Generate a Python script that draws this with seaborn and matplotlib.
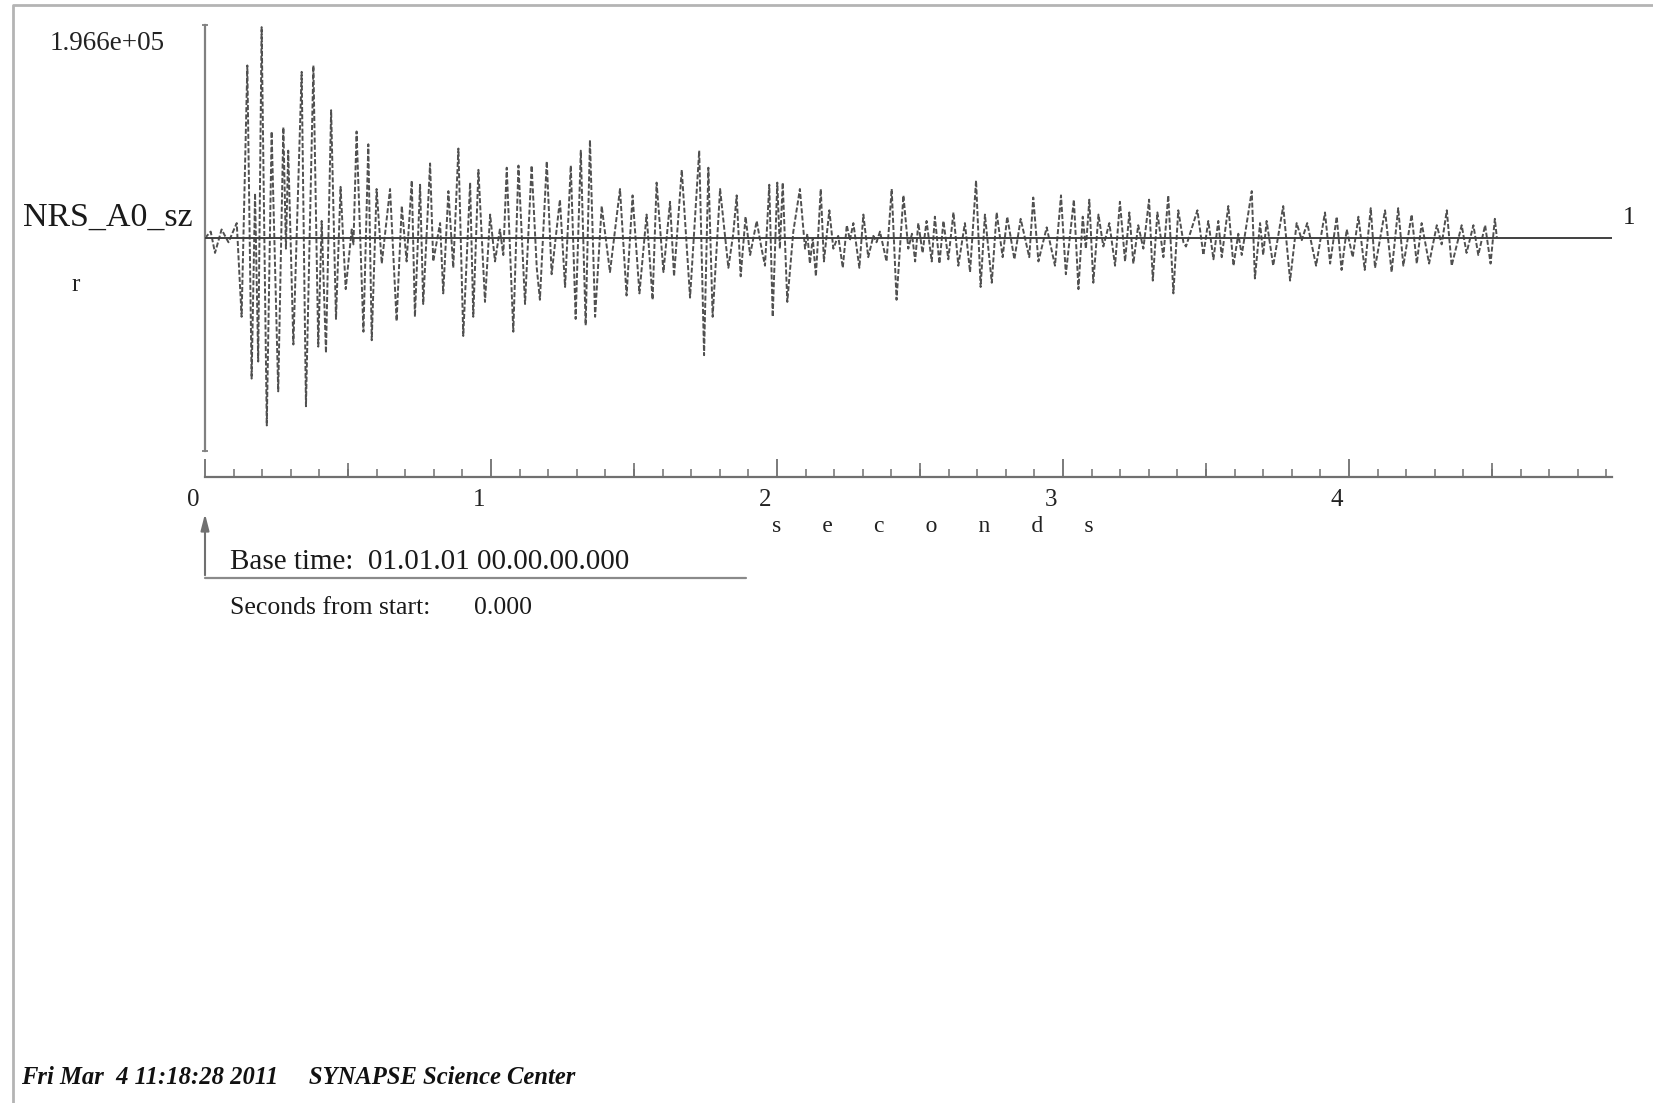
import numpy as np
import pandas as pd
import seaborn as sns
import matplotlib.pyplot as plt
from matplotlib.lines import Line2D
from matplotlib.patches import FancyArrowPatch
from matplotlib.ticker import MultipleLocator
from matplotlib import transforms

sns.set_style('white')
plt.rcParams['font.family'] = ['Liberation Serif', 'DejaVu Serif']

W, H = 1653, 1103

# --- data ---
station = 'NRS_A0_sz'
trace_no = '1'
amp_max = 1.966e5
base_time = '01.01.01 00.00.00.000'
start_offset = 0.000
stamp = 'Fri Mar  4 11:18:28 2011'
site = 'SYNAPSE Science Center'

sec_ticks = [0, 1, 2, 3, 4]
half_ticks = [0.5, 1.5, 2.5, 3.5, 4.5]
t_end = 4.92

# times (s) of the peaks / troughs of the trace
peak_time = [
    0.000, 0.020, 0.035, 0.058, 0.082, 0.111, 0.128, 0.148, 0.163, 0.175,
    0.186, 0.198, 0.216, 0.233, 0.256, 0.274, 0.283, 0.291, 0.309, 0.338,
    0.353, 0.379, 0.396, 0.408, 0.423, 0.441, 0.458, 0.474, 0.492, 0.513,
    0.519, 0.530, 0.554, 0.571, 0.583, 0.600, 0.618, 0.647, 0.670, 0.688,
    0.705, 0.723, 0.734, 0.752, 0.763, 0.787, 0.798, 0.822, 0.833, 0.851,
    0.868, 0.886,
    0.903, 0.927, 0.938, 0.956, 0.979, 0.997, 1.014, 1.031, 1.043, 1.055,
    1.078, 1.096, 1.119, 1.142, 1.160, 1.171, 1.195, 1.212, 1.241, 1.259,
    1.279, 1.296, 1.314, 1.331, 1.346, 1.364, 1.387, 1.416, 1.451, 1.474,
    1.495, 1.519, 1.544, 1.565, 1.579, 1.603, 1.626, 1.640, 1.667, 1.696,
    1.728, 1.745, 1.760,
    1.775, 1.801, 1.830, 1.847, 1.859, 1.873, 1.890, 1.906, 1.929, 1.946,
    1.958, 1.973, 1.985, 2.001, 2.010, 2.020, 2.036, 2.057, 2.080, 2.098,
    2.106, 2.115, 2.125, 2.136, 2.153, 2.164, 2.183, 2.197, 2.214, 2.230,
    2.244, 2.255, 2.267, 2.288, 2.302, 2.319, 2.337, 2.348, 2.360, 2.383,
    2.401, 2.418, 2.442, 2.459, 2.472, 2.483, 2.494, 2.509, 2.523, 2.541,
    2.552, 2.568, 2.582, 2.599, 2.617, 2.634,
    2.657, 2.675, 2.696, 2.712, 2.727, 2.751, 2.768, 2.789, 2.805, 2.830,
    2.852, 2.882, 2.896, 2.914, 2.943, 2.972, 2.993, 3.010, 3.038, 3.054,
    3.069, 3.080, 3.092, 3.106, 3.124, 3.141, 3.162, 3.182, 3.199, 3.217,
    3.232, 3.246, 3.263, 3.281, 3.301, 3.314, 3.330, 3.351, 3.368, 3.386,
    3.403, 3.421, 3.430, 3.470, 3.491, 3.508,
    3.526, 3.543, 3.555, 3.578, 3.596, 3.613, 3.625, 3.660, 3.671, 3.689,
    3.700, 3.712, 3.735, 3.770, 3.794, 3.817, 3.835, 3.854, 3.885, 3.916,
    3.934, 3.957, 3.974, 3.992, 4.013, 4.033, 4.055, 4.076, 4.091, 4.126,
    4.149, 4.172, 4.190, 4.219, 4.237, 4.254, 4.280, 4.307, 4.324, 4.342,
    4.359, 4.394, 4.411, 4.435, 4.452, 4.476, 4.495, 4.510, 4.517,
]

# amplitude at those times, as a fraction of the full-scale value
peak_amp = [
    0.00, 0.03, -0.07, 0.04, -0.02, 0.07, -0.37, 0.81, -0.66, 0.21,
    -0.58, 0.99, -0.88, 0.50, -0.72, 0.52, -0.05, 0.41, -0.50, 0.78,
    -0.79, 0.81, -0.51, 0.08, -0.54, 0.60, -0.38, 0.24, -0.24, 0.04,
    -0.03, 0.50, -0.44, 0.44, -0.48, 0.23, -0.12, 0.23, -0.39, 0.15,
    -0.11, 0.27, -0.37, 0.25, -0.31, 0.35, -0.11, 0.07, -0.26, 0.22,
    -0.14, 0.42,
    -0.46, 0.26, -0.37, 0.32, -0.30, 0.11, -0.11, 0.04, -0.08, 0.33,
    -0.44, 0.34, -0.31, 0.34, -0.14, -0.29, 0.36, -0.17, 0.18, -0.23,
    0.34, -0.38, 0.41, -0.41, 0.46, -0.37, 0.15, -0.16, 0.23, -0.27,
    0.20, -0.26, 0.11, -0.29, 0.26, -0.16, 0.17, -0.18, 0.32, -0.28,
    0.41, -0.55, 0.33,
    -0.37, 0.23, -0.14, 0.02, 0.20, -0.18, 0.10, -0.08, 0.08, -0.05,
    -0.13, 0.25, -0.37, 0.26, -0.05, 0.26, -0.30, 0.03, 0.23, -0.05,
    0.02, -0.12, 0.00, -0.18, 0.23, -0.11, 0.13, -0.05, 0.01, -0.14,
    0.06, -0.01, 0.07, -0.14, 0.11, -0.09, 0.01, -0.02, 0.03, -0.11,
    0.23, -0.29, 0.20, -0.05, 0.02, -0.11, 0.07, -0.07, 0.08, -0.11,
    0.10, -0.12, 0.08, -0.10, 0.12, -0.13,
    0.07, -0.16, 0.27, -0.23, 0.11, -0.21, 0.12, -0.09, 0.10, -0.10,
    0.09, -0.09, 0.19, -0.11, 0.05, -0.13, 0.20, -0.17, 0.18, -0.24,
    0.10, -0.05, 0.18, -0.21, 0.11, -0.04, 0.07, -0.13, 0.17, -0.11,
    0.12, -0.12, 0.06, -0.05, 0.18, -0.20, 0.12, -0.09, 0.20, -0.26,
    0.13, -0.02, -0.04, 0.13, -0.08, 0.08,
    -0.10, 0.08, -0.09, 0.15, -0.13, 0.02, -0.08, 0.22, -0.19, 0.07,
    -0.08, 0.08, -0.13, 0.15, -0.20, 0.07, -0.01, 0.07, -0.13, 0.12,
    -0.12, 0.10, -0.15, 0.04, -0.09, 0.10, -0.15, 0.14, -0.14, 0.13,
    -0.16, 0.14, -0.13, 0.11, -0.12, 0.07, -0.12, 0.06, -0.03, 0.13,
    -0.13, 0.06, -0.07, 0.06, -0.08, 0.06, -0.12, 0.09, 0.00,
]


def fx(x):
    return x / W


def fy(y):
    return 1 - y / H


fig = plt.figure(figsize=(W / 100, H / 100), dpi=100)
px_per_s = 286
ax_w = t_end * px_per_s / W

# trace panel
ax = fig.add_axes([fx(205), fy(451), ax_w, (451 - 25) / H])
trace = pd.DataFrame({'t': peak_time, 'amp': np.array(peak_amp) * amp_max})
sns.lineplot(data=trace, x='t', y='amp', ax=ax, color='#505050',
             linewidth=1.4, estimator=None, sort=False)
ax.lines[0].set_linestyle((0, (2.6, 1.1)))
ax.axhline(0, color='#404040', lw=1.4, zorder=3)
ax.set_xlim(0, t_end)
ax.set_ylim(-amp_max, amp_max)
for s in ['top', 'right', 'bottom']:
    ax.spines[s].set_visible(False)
ax.spines['left'].set_color('#808080')
ax.spines['left'].set_linewidth(1.6)
ax.set_yticks([-amp_max, amp_max])
ax.set_yticklabels([])
ax.set_xticks([])
ax.tick_params(axis='y', left=True, length=5, direction='inout',
               color='#808080', width=1.3)
ax.set_xlabel('')
ax.set_ylabel('')
ax.set_facecolor('none')

# time axis
ax_t = fig.add_axes([fx(205), fy(477.5), ax_w, 30 / H])
ax_t.set_xlim(0, t_end)
ax_t.set_yticks([])
for s in ['top', 'right', 'left']:
    ax_t.spines[s].set_visible(False)
ax_t.spines['bottom'].set_color('#707070')
ax_t.spines['bottom'].set_linewidth(1.6)
ax_t.set_facecolor('none')
ax_t.set_xticks(sec_ticks)
ax_t.set_xticklabels([str(v) for v in sec_ticks])
ax_t.xaxis.set_minor_locator(MultipleLocator(0.1))
ax_t.tick_params(axis='x', which='major', bottom=True, direction='in',
                 length=13, width=1.3, color='#707070', pad=8,
                 labelsize=18, labelcolor='#222222')
ax_t.tick_params(axis='x', which='minor', bottom=True, direction='in',
                 length=5.5, width=1.1, color='#707070')
offset = transforms.ScaledTranslation(-12 / 100, 0, fig.dpi_scale_trans)
for lab in ax_t.get_xticklabels():
    lab.set_transform(lab.get_transform() + offset)

ax_m = ax_t.twiny()
ax_m.set_xlim(0, t_end)
ax_m.set_xticks(half_ticks)
ax_m.xaxis.set_ticks_position('bottom')
ax_m.tick_params(axis='x', which='major', bottom=True, top=False, direction='in',
                 length=10, width=1.2, color='#707070',
                 labelbottom=False, labeltop=False)
for s in ax_m.spines.values():
    s.set_visible(False)

fig.text(fx(933), fy(527), '       '.join('seconds'), ha='center', va='center',
         fontsize=17, color='#222222')

# labels round the trace
fig.text(fx(107), fy(44), f'{amp_max:.3e}', ha='center', va='center',
         fontsize=19.5, color='#222222')
fig.text(fx(193), fy(218), station, ha='right', va='center',
         fontsize=24.5, color='#1a1a1a')
fig.text(fx(76), fy(285), 'r', ha='center', va='center', fontsize=18,
         color='#222222')
fig.text(fx(1629), fy(218), trace_no, ha='center', va='center', fontsize=18,
         color='#1a1a1a')

# base time bracket
fig.add_artist(Line2D([fx(205), fx(746)], [fy(578), fy(578)],
                      color='#8a8a8a', lw=1.6))
fig.add_artist(FancyArrowPatch((fx(205), fy(578)), (fx(205), fy(511)),
                               transform=fig.transFigure,
                               arrowstyle='-|>,head_length=0.7,head_width=0.18',
                               mutation_scale=14, color='#707070', lw=1.5))
fig.text(fx(230), fy(562), f'Base time:  {base_time}', ha='left', va='center',
         fontsize=21, color='#1a1a1a')
fig.text(fx(230), fy(608), 'Seconds from start:', ha='left', va='center',
         fontsize=18.5, color='#1a1a1a')
fig.text(fx(474), fy(608), f'{start_offset:.3f}', ha='left', va='center',
         fontsize=18.5, color='#1a1a1a')

# footer and frame
fig.text(fx(21), fy(1078), f'{stamp}     {site}', ha='left', va='center',
         fontsize=17.7, fontweight='bold', fontstyle='italic', color='#111111')
fig.add_artist(Line2D([fx(12.5), fx(12.5), 1.0], [0.0, fy(5), fy(5)],
                      color='#b4b4b4', lw=2.0))

fig.savefig('out.png', dpi=100, facecolor='white')
